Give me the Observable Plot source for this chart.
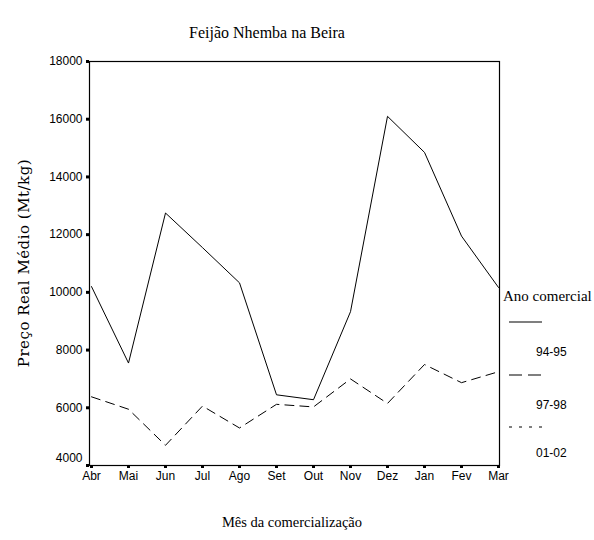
<!DOCTYPE html>
<html><head><meta charset="utf-8">
<script src="https://cdn.jsdelivr.net/npm/d3@7"></script>
<script src="https://cdn.jsdelivr.net/npm/@observablehq/plot@0.6"></script>
<style>
body{margin:0;background:#fff;}
#wrap{position:relative;width:594px;height:540px;overflow:hidden;background:#fff;}
</style></head><body><div id="wrap"></div>
<script>
// ---- data ----
const months = ["Abr","Mai","Jun","Jul","Ago","Set","Out","Nov","Dez","Jan","Fev","Mar"];
const price9495 = [10200, 7550, 12750, 11550, 10330, 6450, 6280, 9330, 16100, 14850, 11950, 10170];
const price9798 = [6380, 5950, 4700, 6060, 5300, 6120, 6030, 7000, 6150, 7500, 6870, 7250];
const price0102 = []; // no line visible in the reference
const seriesNames = ["94-95", "97-98", "01-02"];
const yTicks = [4000, 6000, 8000, 10000, 12000, 14000, 16000, 18000];
const titleText = "Feijão Nhemba na Beira";
const yLabel = "Preço Real Médio (Mt/kg)";
const xLabel = "Mês da comercialização";
const legendTitle = "Ano comercial";

const toRows = (vals, s) => vals.map((v, i) => ({month: months[i], value: v, series: s}));
const rows9495 = toRows(price9495, seriesNames[0]);
const rows9798 = toRows(price9798, seriesNames[1]);
const rows0102 = toRows(price0102, seriesNames[2]);

const chart = Plot.plot({
  width: 594, height: 540,
  marginLeft: 89, marginRight: 95, marginTop: 61, marginBottom: 75,
  style: {fontFamily: "'Liberation Sans', Arial, sans-serif", fontSize: "12px", background: "white", color: "black", overflow: "visible"},
  x: {type: "point", domain: months, padding: 0},
  y: {domain: [4000, 18000]},
  marks: [
    Plot.frame({stroke: "black", strokeWidth: 1.2}),
    Plot.axisX({tickSize: 3, strokeWidth: 3, tickPadding: 3, label: null, fontSize: 12}),
    Plot.axisY({ticks: yTicks, tickSize: 3, strokeWidth: 3, tickPadding: 4, label: null, fontSize: 12,
      tickFormat: d => d === 4000 ? "" : String(d)}),
    Plot.axisY({ticks: [4000], tickSize: 0, tickPadding: 7, dy: -7, label: null, fontSize: 12,
      tickFormat: d => String(d)}),
    Plot.line(rows9495, {x: "month", y: "value", stroke: "black", strokeWidth: 1}),
    Plot.line(rows9798, {x: "month", y: "value", stroke: "black", strokeWidth: 1, strokeDasharray: "9,6"}),
    Plot.line(rows0102, {x: "month", y: "value", stroke: "black", strokeWidth: 1, strokeDasharray: "3,5"})
  ]
});
document.getElementById("wrap").appendChild(chart);

const svg = d3.select(chart);
const serif = "'Liberation Serif', 'Times New Roman', serif";
svg.append("text").attr("x", 267).attr("y", 38).attr("text-anchor", "middle")
  .style("font-family", serif).style("font-size", "16px").text(titleText);
svg.append("text").attr("transform", "translate(29,263) rotate(-90)").attr("text-anchor", "middle")
  .style("font-family", "'DejaVu Serif', serif").style("font-size", "15px").style("letter-spacing", "0.5px").text(yLabel);
svg.append("text").attr("x", 292).attr("y", 527).attr("text-anchor", "middle")
  .style("font-family", serif).style("font-size", "14.5px").text(xLabel);

// legend
const lg = svg.append("g").attr("text-anchor", "start");
lg.append("text").attr("x", 503).attr("y", 301).attr("text-anchor", "start")
  .style("font-family", serif).style("font-size", "15px").text(legendTitle);
const dashes = [null, "13,6", "3,7"];
const sampleY = [322, 375, 427];
const labelY = [356, 409, 457];
seriesNames.forEach((s, i) => {
  const l = lg.append("line").attr("x1", 509).attr("x2", 542).attr("y1", sampleY[i]).attr("y2", sampleY[i])
    .attr("stroke", "black").attr("stroke-width", 1.2);
  if (dashes[i]) l.attr("stroke-dasharray", dashes[i]);
  lg.append("text").attr("x", 536).attr("y", labelY[i]).attr("text-anchor", "start")
    .style("font-size", "12px").text(s);
});
</script></body></html>
